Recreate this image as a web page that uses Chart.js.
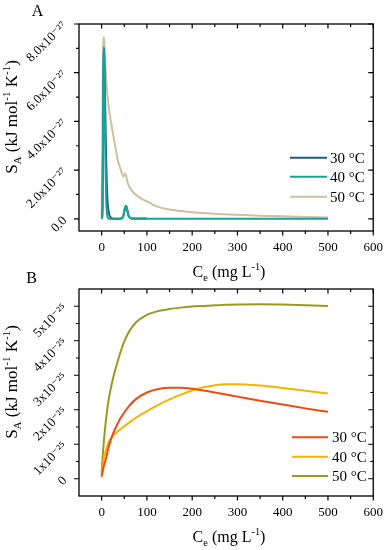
<!DOCTYPE html>
<html>
<head>
<meta charset="UTF-8">
<title>SA vs Ce</title>
<script src="https://cdn.jsdelivr.net/npm/chart.js"></script>
<style>
  body { margin: 0; background: #fff; }
  .wrap { position: relative; width: 392px; height: 550px; }
  canvas { position: absolute; left: 0; }
  #chartA { top: 0; }
  #chartB { top: 265px; }
</style>
</head>
<body>
<div class="wrap">
  <canvas id="chartA" width="392" height="285"></canvas>
  <canvas id="chartB" width="392" height="285"></canvas>
</div>
<script>
// panel A, S_A in units of 1e-27 kJ mol-1 K-1
const ceA   = [0, 1, 2, 3, 4, 5, 6, 7, 8, 10, 12, 14, 17, 20, 25, 30, 35, 40, 45, 48, 50, 52, 54, 56, 58, 60, 65, 70, 80, 90, 100, 120, 150, 200, 250, 300, 350, 400, 450, 500];
const ceA30 = [0, 1, 2, 3, 4, 5, 6, 7, 8, 10, 12, 14, 17, 20, 25, 30, 35, 40, 45, 48, 50, 52, 54, 56, 58, 60, 65, 70, 80, 90, 100];
const sA30  = [0, 0.05, 0.5, 2.8, 6.0, 7.0, 6.6, 5.6, 4.5, 2.4, 1.1, 0.5, 0.17, 0.06, 0.01, 0, 0, 0, 0.03, 0.13, 0.3, 0.47, 0.53, 0.42, 0.23, 0.1, 0.02, 0.01, 0.01, 0.01, 0.01];
const sA40  = [0, 0.05, 0.6, 3.0, 6.2, 7.05, 6.0, 4.4, 2.8, 0.8, 0.18, 0.04, 0, 0, 0, 0, 0, 0, 0.03, 0.14, 0.3, 0.47, 0.54, 0.43, 0.24, 0.11, 0.02, 0, 0, 0, 0, 0, 0, 0, 0, 0, 0, 0, 0, 0];
const sA50  = [0, 2.0, 4.6, 6.6, 7.35, 7.45, 7.2, 6.8, 6.4, 5.75, 5.25, 4.85, 4.4, 4.05, 3.5, 3.0, 2.45, 2.15, 1.85, 1.75, 1.78, 1.85, 1.78, 1.6, 1.46, 1.36, 1.2, 1.08, 0.92, 0.8, 0.72, 0.52, 0.38, 0.27, 0.21, 0.17, 0.13, 0.11, 0.08, 0.05];

// panel B, S_A in units of 1e-25 kJ mol-1 K-1
const ceB  = [0, 2, 5, 10, 15, 20, 25, 30, 40, 50, 60, 75, 100, 125, 150, 175, 200, 225, 250, 275, 300, 350, 400, 450, 500];
const sB30 = [0.08, 0.2, 0.38, 0.6, 0.9, 1.12, 1.3, 1.45, 1.72, 1.92, 2.1, 2.3, 2.5, 2.6, 2.64, 2.64, 2.61, 2.56, 2.5, 2.44, 2.38, 2.26, 2.15, 2.04, 1.94];
const sB40 = [0.03, 0.3, 0.6, 0.85, 1.05, 1.15, 1.24, 1.31, 1.42, 1.52, 1.62, 1.76, 1.96, 2.14, 2.3, 2.44, 2.56, 2.65, 2.71, 2.74, 2.74, 2.7, 2.63, 2.55, 2.47];
const sB50 = [0.15, 0.6, 1.1, 1.75, 2.25, 2.6, 2.9, 3.15, 3.6, 3.98, 4.25, 4.52, 4.75, 4.86, 4.92, 4.96, 4.99, 5.01, 5.03, 5.04, 5.05, 5.06, 5.05, 5.03, 5.01];

const seriesNames = ['30 °C', '40 °C', '50 °C'];

const xTickVals   = [0, 100, 200, 300, 400, 500, 600];
const xTickLabels = ['0', '100', '200', '300', '400', '500', '600'];
const xMinorVals  = [50, 150, 250, 350, 450, 550];

const yTickValsA   = [0, 2, 4, 6, 8];
const yTickLabelsA = ['0.0', '2.0x10⁻²⁷', '4.0x10⁻²⁷', '6.0x10⁻²⁷', '8.0x10⁻²⁷'];
const yMinorValsA  = [1, 3, 5, 7];

const yTickValsB   = [0, 1, 2, 3, 4, 5];
const yTickLabelsB = ['0', '1x10⁻²⁵', '2x10⁻²⁵', '3x10⁻²⁵', '4x10⁻²⁵', '5x10⁻²⁵'];
const yMinorValsB  = [0.5, 1.5, 2.5, 3.5, 4.5];

const FONT = "'Liberation Serif', 'DejaVu Serif', 'Times New Roman', serif";

function pts(xs, ys) {
  return xs.map((x, i) => ({ x: x, y: ys[i] }));
}

// draws text with sub/superscripts, centred on x
function drawRich(ctx, parts, x, y, size) {
  const small = size * 0.65;
  let total = 0;
  parts.forEach(p => {
    ctx.font = (p[1] ? small : size) + 'px ' + FONT;
    total += ctx.measureText(p[0]).width;
  });
  let cx = x - total / 2;
  ctx.textAlign = 'left';
  ctx.textBaseline = 'alphabetic';
  parts.forEach(p => {
    ctx.font = (p[1] ? small : size) + 'px ' + FONT;
    let dy = 0;
    if (p[1] === 'sup') dy = -size * 0.42;
    if (p[1] === 'sub') dy = size * 0.22;
    ctx.fillText(p[0], cx, y + dy);
    cx += ctx.measureText(p[0]).width;
  });
}

const xTitle = [['C'], ['e', 'sub'], [' (mg L'], ['-1', 'sup'], [')']];
const yTitle = [['S'], ['A', 'sub'], [' (kJ mol'], ['-1', 'sup'], [' K'], ['-1', 'sup'], [')']];

function makeChart(id, o) {
  const deco = {
    id: 'deco',
    afterDraw(chart) {
      const ctx = chart.ctx;
      const a = chart.chartArea;
      const x = chart.scales.x, y = chart.scales.y;
      ctx.save();
      ctx.strokeStyle = '#000';
      ctx.lineWidth = 1.3;
      ctx.strokeRect(a.left, a.top, a.right - a.left, a.bottom - a.top);

      ctx.lineWidth = 1.2;
      ctx.beginPath();
      const xt = (v, len) => {
        const px = x.getPixelForValue(v);
        ctx.moveTo(px, a.bottom); ctx.lineTo(px, a.bottom + len);
        ctx.moveTo(px, a.top); ctx.lineTo(px, a.top + len);
      };
      const yt = (v, len) => {
        const py = y.getPixelForValue(v);
        ctx.moveTo(a.left, py); ctx.lineTo(a.left - len, py);
        ctx.moveTo(a.right, py); ctx.lineTo(a.right - len, py);
      };
      xTickVals.forEach(v => xt(v, 4.5));
      xMinorVals.forEach(v => xt(v, 3));
      o.yTicks.forEach(v => yt(v, 5));
      o.yMinor.forEach(v => yt(v, 3));
      ctx.stroke();

      // legend
      ctx.lineWidth = 2;
      o.colors.forEach((c, i) => {
        const ly = o.legend.y[i];
        ctx.strokeStyle = c;
        ctx.beginPath();
        ctx.moveTo(o.legend.x1, ly);
        ctx.lineTo(o.legend.x2, ly);
        ctx.stroke();
        ctx.fillStyle = '#000';
        ctx.font = '15px ' + FONT;
        ctx.textAlign = 'left';
        ctx.textBaseline = 'middle';
        ctx.fillText(seriesNames[i], o.legend.tx, ly + 1);
      });

      // titles and panel letter
      ctx.fillStyle = '#000';
      drawRich(ctx, xTitle, 229, 277, 16);
      ctx.save();
      ctx.translate(17, 117);
      ctx.rotate(-Math.PI / 2);
      drawRich(ctx, yTitle, 0, 0, 17);
      ctx.restore();
      ctx.font = '16px ' + FONT;
      ctx.textAlign = 'center';
      ctx.textBaseline = 'alphabetic';
      ctx.fillText(o.letter, o.letterX, o.letterY);
      ctx.restore();
    }
  };

  return new Chart(document.getElementById(id), {
    type: 'line',
    data: {
      datasets: o.data.map((d, i) => ({
        label: seriesNames[i],
        data: d,
        borderColor: o.colors[i],
        borderWidth: 2,
        pointRadius: 0,
        fill: false,
        cubicInterpolationMode: 'monotone',
        order: o.order[i]
      }))
    },
    options: {
      responsive: false,
      animation: false,
      devicePixelRatio: 1,
      layout: { padding: { left: 0, right: 13, top: 24, bottom: 0 } },
      plugins: { legend: { display: false }, tooltip: { enabled: false } },
      scales: {
        x: {
          type: 'linear',
          min: -50,
          max: 600,
          afterBuildTicks: s => { s.ticks = xTickVals.map(v => ({ value: v })); },
          afterFit: s => { s.height = 54; },
          grid: { display: false, drawTicks: false },
          border: { display: false },
          ticks: {
            color: '#000',
            padding: 9,
            maxRotation: 0,
            font: { family: FONT, size: 13 },
            callback: (v, i) => xTickLabels[i]
          }
        },
        y: {
          min: o.yMin,
          max: o.yMax,
          afterBuildTicks: s => { s.ticks = o.yTicks.map(v => ({ value: v })); },
          afterFit: s => { s.width = 79; },
          grid: { display: false, drawTicks: false },
          border: { display: false },
          ticks: {
            color: '#000',
            padding: 14,
            minRotation: 45,
            maxRotation: 45,
            font: { family: FONT, size: 13 },
            callback: (v, i) => o.yLabels[i]
          }
        }
      }
    },
    plugins: [deco]
  });
}

makeChart('chartA', {
  data: [pts(ceA30, sA30), pts(ceA, sA40), pts(ceA, sA50)],
  colors: ['#1d5f80', '#17a39a', '#d2bf9f'],
  order: [1, 0, 2],
  yMin: -0.5, yMax: 8,
  yTicks: yTickValsA, yLabels: yTickLabelsA, yMinor: yMinorValsA,
  legend: { x1: 290, x2: 327, tx: 330, y: [157.7, 176.7, 196.7] },
  letter: 'A', letterX: 37.5, letterY: 16
});

makeChart('chartB', {
  data: [pts(ceB, sB30), pts(ceB, sB40), pts(ceB, sB50)],
  colors: ['#f04a0c', '#f6b400', '#9a9a1e'],
  order: [0, 1, 2],
  yMin: -0.5, yMax: 5.5,
  yTicks: yTickValsB, yLabels: yTickLabelsB, yMinor: yMinorValsB,
  legend: { x1: 292, x2: 328, tx: 332, y: [172.3, 191.7, 211] },
  letter: 'B', letterX: 31.5, letterY: 18
});
</script>
</body>
</html>
